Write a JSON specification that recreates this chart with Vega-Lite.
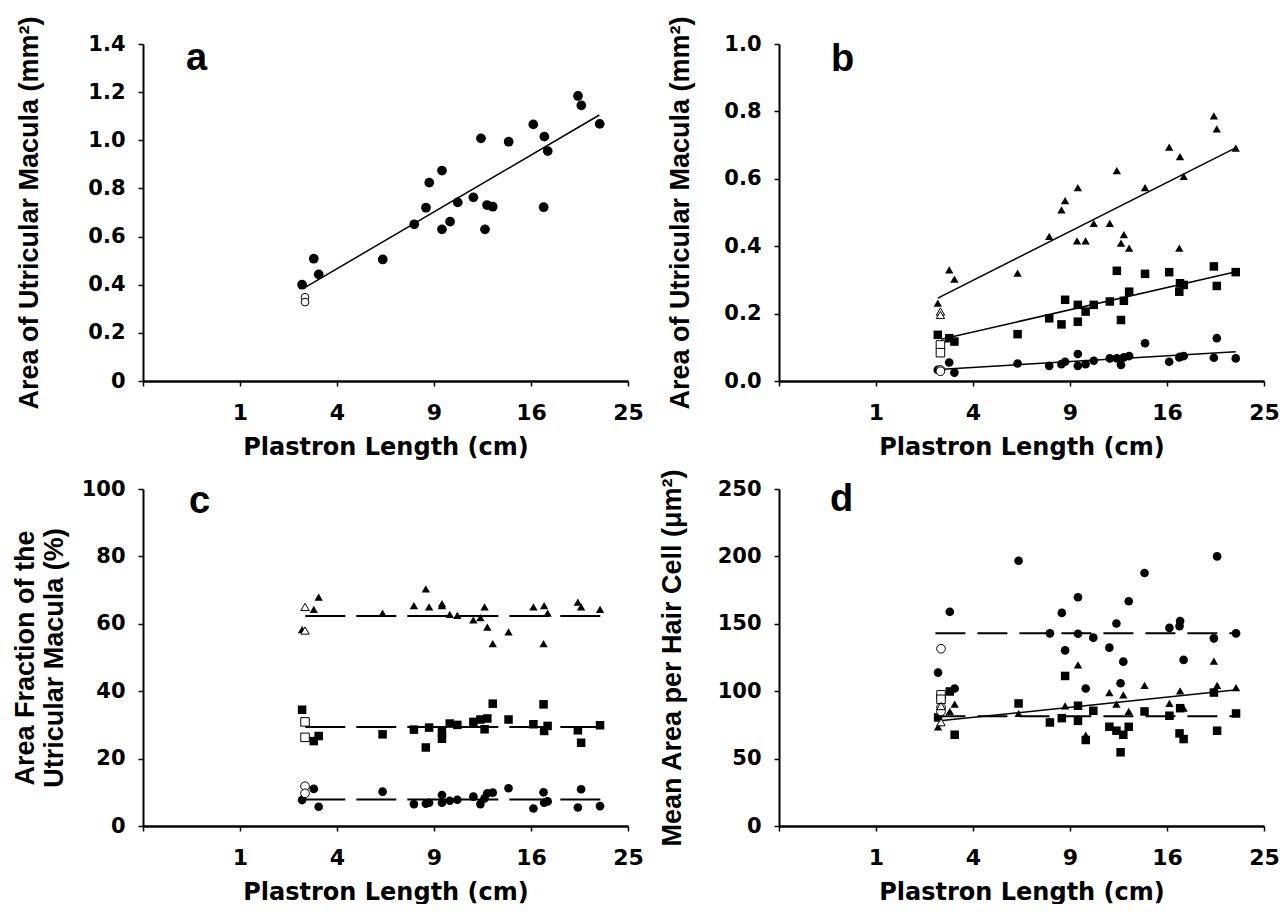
{
  "$schema": "https://vega.github.io/schema/vega-lite/v6.json",
  "background": "white",
  "padding": {"left": 11, "top": 15, "right": 0, "bottom": 0},
  "config": {
    "view": {"stroke": null},
    "axis": {"domainColor": "black", "domainWidth": 2, "tickColor": "black", "tickWidth": 1.5, "tickSize": 5, "labelColor": "black", "titleColor": "black", "grid": false, "labelFont": "DejaVu Sans", "labelFontWeight": "bold", "titleFontWeight": "bold"},
    "axisX": {"labelFontSize": 22, "labelPadding": 16, "titleFont": "DejaVu Sans", "titleFontSize": 24, "titlePadding": 12, "labelFlush": false, "labelOverlap": false, "domainWidth": 2.5},
    "axisY": {"labelFontSize": 21, "labelPadding": 13, "titleFont": "Liberation Sans", "titleFontSize": 27, "titleLineHeight": 29, "labelOverlap": false}
  },
  "datasets": {
    "a_pts": [
      {"L": 2.69, "v": 0.40, "r": "c"}, {"L": 3.10, "v": 0.508, "r": "c"}, {"L": 3.28, "v": 0.443, "r": "c"},
      {"L": 6.11, "v": 0.505, "r": "c"}, {"L": 7.82, "v": 0.651, "r": "c"}, {"L": 8.51, "v": 0.720, "r": "c"},
      {"L": 8.71, "v": 0.824, "r": "c"}, {"L": 9.50, "v": 0.874, "r": "c"}, {"L": 9.50, "v": 0.630, "r": "c"},
      {"L": 10.02, "v": 0.662, "r": "c"}, {"L": 10.53, "v": 0.742, "r": "c"}, {"L": 11.60, "v": 0.763, "r": "c"},
      {"L": 12.14, "v": 1.008, "r": "c"}, {"L": 12.43, "v": 0.630, "r": "c"}, {"L": 12.58, "v": 0.731, "r": "c"},
      {"L": 13.00, "v": 0.724, "r": "c"}, {"L": 14.21, "v": 0.994, "r": "c"}, {"L": 16.19, "v": 1.066, "r": "c"},
      {"L": 17.12, "v": 1.015, "r": "c"}, {"L": 17.06, "v": 0.722, "r": "c"}, {"L": 17.41, "v": 0.955, "r": "c"},
      {"L": 20.11, "v": 1.184, "r": "c"}, {"L": 20.42, "v": 1.145, "r": "c"}, {"L": 22.17, "v": 1.068, "r": "c"}
    ],
    "a_open": [
      {"L": 2.79, "v": 0.348, "r": "c"}, {"L": 2.79, "v": 0.328, "r": "c"}
    ],
    "a_lines": [
      {"L": 2.78, "v": 0.388, "r": "c"}, {"L": 22.13, "v": 1.105, "r": "c"}
    ],
    "b_pts": [
      {"L": 2.68, "v": 0.231, "r": "t"}, {"L": 3.08, "v": 0.330, "r": "t"}, {"L": 3.27, "v": 0.302, "r": "t"},
      {"L": 6.05, "v": 0.320, "r": "t"}, {"L": 7.76, "v": 0.429, "r": "t"}, {"L": 8.48, "v": 0.508, "r": "t"},
      {"L": 8.70, "v": 0.535, "r": "t"}, {"L": 9.49, "v": 0.574, "r": "t"}, {"L": 9.44, "v": 0.416, "r": "t"},
      {"L": 9.99, "v": 0.416, "r": "t"}, {"L": 10.53, "v": 0.468, "r": "t"}, {"L": 11.63, "v": 0.468, "r": "t"},
      {"L": 12.13, "v": 0.624, "r": "t"}, {"L": 12.43, "v": 0.409, "r": "t"}, {"L": 12.64, "v": 0.434, "r": "t"},
      {"L": 13.03, "v": 0.394, "r": "t"}, {"L": 14.24, "v": 0.574, "r": "t"}, {"L": 16.18, "v": 0.694, "r": "t"},
      {"L": 17.09, "v": 0.666, "r": "t"}, {"L": 17.03, "v": 0.394, "r": "t"}, {"L": 17.41, "v": 0.607, "r": "t"},
      {"L": 20.10, "v": 0.787, "r": "t"}, {"L": 20.37, "v": 0.748, "r": "t"}, {"L": 22.17, "v": 0.691, "r": "t"},
      {"L": 2.68, "v": 0.137, "r": "s"}, {"L": 3.08, "v": 0.127, "r": "s"}, {"L": 3.27, "v": 0.117, "r": "s"},
      {"L": 6.05, "v": 0.139, "r": "s"}, {"L": 7.76, "v": 0.186, "r": "s"}, {"L": 8.48, "v": 0.168, "r": "s"},
      {"L": 8.70, "v": 0.241, "r": "s"}, {"L": 9.49, "v": 0.226, "r": "s"}, {"L": 9.49, "v": 0.176, "r": "s"},
      {"L": 9.99, "v": 0.206, "r": "s"}, {"L": 10.53, "v": 0.226, "r": "s"}, {"L": 11.63, "v": 0.236, "r": "s"},
      {"L": 12.13, "v": 0.327, "r": "s"}, {"L": 12.43, "v": 0.181, "r": "s"}, {"L": 12.64, "v": 0.238, "r": "s"},
      {"L": 13.03, "v": 0.265, "r": "s"}, {"L": 14.24, "v": 0.318, "r": "s"}, {"L": 16.18, "v": 0.323, "r": "s"},
      {"L": 17.09, "v": 0.290, "r": "s"}, {"L": 17.03, "v": 0.265, "r": "s"}, {"L": 17.41, "v": 0.285, "r": "s"},
      {"L": 20.10, "v": 0.340, "r": "s"}, {"L": 20.37, "v": 0.282, "r": "s"}, {"L": 22.17, "v": 0.323, "r": "s"},
      {"L": 2.68, "v": 0.033, "r": "c"}, {"L": 3.08, "v": 0.055, "r": "c"}, {"L": 3.27, "v": 0.025, "r": "c"},
      {"L": 6.05, "v": 0.052, "r": "c"}, {"L": 7.76, "v": 0.045, "r": "c"}, {"L": 8.48, "v": 0.050, "r": "c"},
      {"L": 8.70, "v": 0.057, "r": "c"}, {"L": 9.49, "v": 0.080, "r": "c"}, {"L": 9.49, "v": 0.045, "r": "c"},
      {"L": 9.99, "v": 0.050, "r": "c"}, {"L": 10.53, "v": 0.060, "r": "c"}, {"L": 11.63, "v": 0.067, "r": "c"},
      {"L": 12.13, "v": 0.067, "r": "c"}, {"L": 12.43, "v": 0.048, "r": "c"}, {"L": 12.64, "v": 0.070, "r": "c"},
      {"L": 13.03, "v": 0.074, "r": "c"}, {"L": 14.24, "v": 0.112, "r": "c"}, {"L": 16.18, "v": 0.057, "r": "c"},
      {"L": 17.09, "v": 0.072, "r": "c"}, {"L": 17.03, "v": 0.070, "r": "c"}, {"L": 17.41, "v": 0.074, "r": "c"},
      {"L": 20.10, "v": 0.069, "r": "c"}, {"L": 20.37, "v": 0.127, "r": "c"}, {"L": 22.17, "v": 0.067, "r": "c"}
    ],
    "b_open": [
      {"L": 2.77, "v": 0.206, "r": "t"}, {"L": 2.77, "v": 0.196, "r": "t"},
      {"L": 2.77, "v": 0.107, "r": "s"}, {"L": 2.77, "v": 0.084, "r": "s"},
      {"L": 2.77, "v": 0.033, "r": "c"}, {"L": 2.77, "v": 0.029, "r": "c"}
    ],
    "b_lines": [
      {"L": 2.68, "v": 0.246, "r": "t"}, {"L": 22.3, "v": 0.694, "r": "t"},
      {"L": 2.80, "v": 0.124, "r": "s"}, {"L": 22.3, "v": 0.325, "r": "s"},
      {"L": 2.85, "v": 0.035, "r": "c"}, {"L": 22.17, "v": 0.087, "r": "c"}
    ],
    "c_pts": [
      {"L": 2.69, "v": 58.3, "r": "t"}, {"L": 3.10, "v": 64.3, "r": "t"}, {"L": 3.28, "v": 67.9, "r": "t"},
      {"L": 6.10, "v": 63.2, "r": "t"}, {"L": 7.80, "v": 65.4, "r": "t"}, {"L": 8.50, "v": 70.4, "r": "t"},
      {"L": 8.70, "v": 65.0, "r": "t"}, {"L": 9.50, "v": 65.4, "r": "t"}, {"L": 9.50, "v": 66.0, "r": "t"},
      {"L": 10.0, "v": 62.8, "r": "t"}, {"L": 10.5, "v": 62.5, "r": "t"}, {"L": 11.6, "v": 61.2, "r": "t"},
      {"L": 12.1, "v": 61.8, "r": "t"}, {"L": 12.4, "v": 65.0, "r": "t"}, {"L": 12.6, "v": 59.0, "r": "t"},
      {"L": 13.0, "v": 54.1, "r": "t"}, {"L": 14.2, "v": 57.6, "r": "t"}, {"L": 16.2, "v": 65.0, "r": "t"},
      {"L": 17.1, "v": 65.4, "r": "t"}, {"L": 17.05, "v": 54.1, "r": "t"}, {"L": 17.4, "v": 63.2, "r": "t"},
      {"L": 20.1, "v": 66.4, "r": "t"}, {"L": 20.4, "v": 65.0, "r": "t"}, {"L": 22.2, "v": 64.3, "r": "t"},
      {"L": 2.69, "v": 34.5, "r": "s"}, {"L": 3.10, "v": 25.2, "r": "s"}, {"L": 3.28, "v": 26.7, "r": "s"},
      {"L": 6.10, "v": 27.2, "r": "s"}, {"L": 7.80, "v": 28.6, "r": "s"}, {"L": 8.50, "v": 23.3, "r": "s"},
      {"L": 8.70, "v": 29.2, "r": "s"}, {"L": 9.50, "v": 25.9, "r": "s"}, {"L": 9.50, "v": 27.9, "r": "s"},
      {"L": 10.0, "v": 30.4, "r": "s"}, {"L": 10.5, "v": 30.0, "r": "s"}, {"L": 11.6, "v": 30.9, "r": "s"},
      {"L": 12.1, "v": 31.6, "r": "s"}, {"L": 12.4, "v": 28.7, "r": "s"}, {"L": 12.6, "v": 31.9, "r": "s"},
      {"L": 13.0, "v": 36.3, "r": "s"}, {"L": 14.2, "v": 31.6, "r": "s"}, {"L": 16.2, "v": 30.2, "r": "s"},
      {"L": 17.1, "v": 28.2, "r": "s"}, {"L": 17.05, "v": 36.1, "r": "s"}, {"L": 17.4, "v": 29.7, "r": "s"},
      {"L": 20.1, "v": 28.4, "r": "s"}, {"L": 20.4, "v": 24.7, "r": "s"}, {"L": 22.2, "v": 29.9, "r": "s"},
      {"L": 2.69, "v": 7.7, "r": "c"}, {"L": 3.10, "v": 11.0, "r": "c"}, {"L": 3.28, "v": 5.7, "r": "c"},
      {"L": 6.10, "v": 10.2, "r": "c"}, {"L": 7.80, "v": 6.5, "r": "c"}, {"L": 8.50, "v": 6.6, "r": "c"},
      {"L": 8.70, "v": 6.9, "r": "c"}, {"L": 9.50, "v": 9.2, "r": "c"}, {"L": 9.50, "v": 6.9, "r": "c"},
      {"L": 10.0, "v": 7.5, "r": "c"}, {"L": 10.5, "v": 7.8, "r": "c"}, {"L": 11.6, "v": 8.7, "r": "c"},
      {"L": 12.1, "v": 6.5, "r": "c"}, {"L": 12.4, "v": 8.2, "r": "c"}, {"L": 12.6, "v": 9.7, "r": "c"},
      {"L": 13.0, "v": 9.9, "r": "c"}, {"L": 14.2, "v": 11.2, "r": "c"}, {"L": 16.2, "v": 5.2, "r": "c"},
      {"L": 17.1, "v": 6.9, "r": "c"}, {"L": 17.05, "v": 10.0, "r": "c"}, {"L": 17.4, "v": 7.3, "r": "c"},
      {"L": 20.1, "v": 5.5, "r": "c"}, {"L": 20.4, "v": 10.9, "r": "c"}, {"L": 22.2, "v": 5.9, "r": "c"}
    ],
    "c_open": [
      {"L": 2.79, "v": 65.0, "r": "t"}, {"L": 2.79, "v": 58.0, "r": "t"},
      {"L": 2.79, "v": 30.9, "r": "s"}, {"L": 2.79, "v": 26.3, "r": "s"},
      {"L": 2.79, "v": 11.8, "r": "c"}, {"L": 2.79, "v": 9.7, "r": "c"}
    ],
    "c_lines": [
      {"L": 2.8, "v": 62.3, "r": "t"}, {"L": 22.3, "v": 62.3, "r": "t"},
      {"L": 2.8, "v": 29.4, "r": "s"}, {"L": 22.3, "v": 29.4, "r": "s"},
      {"L": 2.8, "v": 7.9, "r": "c"}, {"L": 22.3, "v": 7.9, "r": "c"}
    ],
    "d_pts": [
      {"L": 2.69, "v": 113.8, "r": "c"}, {"L": 3.10, "v": 158.9, "r": "c"}, {"L": 3.28, "v": 102.0, "r": "c"},
      {"L": 6.10, "v": 196.8, "r": "c"}, {"L": 7.80, "v": 142.9, "r": "c"}, {"L": 8.50, "v": 158.1, "r": "c"},
      {"L": 8.70, "v": 130.3, "r": "c"}, {"L": 9.50, "v": 169.7, "r": "c"}, {"L": 9.50, "v": 142.6, "r": "c"},
      {"L": 10.0, "v": 102.0, "r": "c"}, {"L": 10.5, "v": 139.7, "r": "c"}, {"L": 11.6, "v": 132.3, "r": "c"},
      {"L": 12.1, "v": 150.2, "r": "c"}, {"L": 12.4, "v": 105.9, "r": "c"}, {"L": 12.6, "v": 121.9, "r": "c"},
      {"L": 13.0, "v": 166.7, "r": "c"}, {"L": 14.2, "v": 187.7, "r": "c"}, {"L": 16.2, "v": 147.0, "r": "c"},
      {"L": 17.1, "v": 152.0, "r": "c"}, {"L": 17.05, "v": 148.3, "r": "c"}, {"L": 17.4, "v": 123.2, "r": "c"},
      {"L": 20.1, "v": 139.2, "r": "c"}, {"L": 20.4, "v": 200.0, "r": "c"}, {"L": 22.2, "v": 142.9, "r": "c"},
      {"L": 2.69, "v": 73.6, "r": "t"}, {"L": 3.10, "v": 85.0, "r": "t"}, {"L": 3.28, "v": 90.4, "r": "t"},
      {"L": 6.10, "v": 83.5, "r": "t"}, {"L": 7.80, "v": 78.0, "r": "t"}, {"L": 8.70, "v": 89.2, "r": "t"},
      {"L": 9.50, "v": 119.5, "r": "t"}, {"L": 10.0, "v": 67.5, "r": "t"}, {"L": 11.6, "v": 99.0, "r": "t"},
      {"L": 12.1, "v": 90.4, "r": "t"}, {"L": 12.6, "v": 97.3, "r": "t"}, {"L": 13.0, "v": 85.0, "r": "t"},
      {"L": 14.2, "v": 104.4, "r": "t"}, {"L": 16.2, "v": 90.9, "r": "t"}, {"L": 17.1, "v": 100.2, "r": "t"},
      {"L": 17.4, "v": 87.4, "r": "t"}, {"L": 20.1, "v": 122.4, "r": "t"}, {"L": 20.4, "v": 104.4, "r": "t"},
      {"L": 22.2, "v": 102.7, "r": "t"},
      {"L": 2.69, "v": 80.5, "r": "s"}, {"L": 3.10, "v": 99.8, "r": "s"}, {"L": 3.28, "v": 67.7, "r": "s"},
      {"L": 6.10, "v": 90.9, "r": "s"}, {"L": 7.80, "v": 76.8, "r": "s"}, {"L": 8.50, "v": 80.0, "r": "s"},
      {"L": 8.70, "v": 111.3, "r": "s"}, {"L": 9.50, "v": 89.2, "r": "s"}, {"L": 9.50, "v": 78.0, "r": "s"},
      {"L": 10.0, "v": 63.8, "r": "s"}, {"L": 10.5, "v": 85.5, "r": "s"}, {"L": 11.6, "v": 73.6, "r": "s"},
      {"L": 12.1, "v": 70.7, "r": "s"}, {"L": 12.4, "v": 54.7, "r": "s"}, {"L": 12.6, "v": 67.7, "r": "s"},
      {"L": 13.0, "v": 73.6, "r": "s"}, {"L": 14.2, "v": 85.0, "r": "s"}, {"L": 16.2, "v": 81.8, "r": "s"},
      {"L": 17.1, "v": 87.4, "r": "s"}, {"L": 17.05, "v": 68.7, "r": "s"}, {"L": 17.4, "v": 64.5, "r": "s"},
      {"L": 20.1, "v": 99.0, "r": "s"}, {"L": 20.4, "v": 70.7, "r": "s"}, {"L": 22.2, "v": 83.5, "r": "s"}
    ],
    "d_open": [
      {"L": 2.79, "v": 131.5, "r": "c"}, {"L": 2.79, "v": 88.0, "r": "c"}, {"L": 2.79, "v": 85.0, "r": "c"},
      {"L": 2.79, "v": 97.3, "r": "s"}, {"L": 2.79, "v": 94.0, "r": "s"},
      {"L": 2.79, "v": 77.0, "r": "t"}, {"L": 2.79, "v": 89.0, "r": "t"}
    ],
    "d_fit": [
      {"L": 2.74, "v": 78.0, "r": "t"}, {"L": 22.3, "v": 101.0, "r": "t"}
    ],
    "d_mean": [
      {"L": 2.6, "v": 142.9, "r": "c"}, {"L": 22.4, "v": 142.9, "r": "c"},
      {"L": 2.6, "v": 81.5, "r": "s"}, {"L": 22.4, "v": 81.5, "r": "s"}
    ]
  },
  "columns": 2,
  "bounds": "flush",
  "spacing": {"row": 108, "column": 151},
  "concat": [
    {
      "width": 485, "height": 337,
      "layer": [
        {"data": {"name": "a_lines"}, "mark": {"type": "line", "color": "black", "strokeWidth": 1.5},
         "encoding": {
           "x": {"field": "L", "type": "quantitative", "scale": {"type": "sqrt", "domain": [0, 25], "nice": false}, "axis": {"title": "Plastron Length (cm)", "values": [0, 1, 4, 9, 16, 25], "labelExpr": "datum.value === 0 ? '' : datum.label"}},
           "y": {"field": "v", "type": "quantitative", "scale": {"domain": [0, 1.4], "nice": false}, "axis": {"title": "Area of Utricular Macula (mm²)", "values": [0, 0.2, 0.4, 0.6, 0.8, 1.0, 1.2, 1.4], "labelExpr": "datum.value === 0 ? '0' : format(datum.value, '.1f')", "titlePadding": 44}},
           "detail": {"field": "r"}}},
        {"data": {"name": "a_pts"}, "mark": {"type": "point", "filled": true, "color": "black", "opacity": 1, "shape": "circle", "size": 95},
         "encoding": {"x": {"field": "L", "type": "quantitative"}, "y": {"field": "v", "type": "quantitative"}}},
        {"data": {"name": "a_open"}, "mark": {"type": "point", "filled": true, "fill": "white", "stroke": "black", "strokeWidth": 1, "opacity": 1, "shape": "circle", "size": 60},
         "encoding": {"x": {"field": "L", "type": "quantitative"}, "y": {"field": "v", "type": "quantitative"}}},
        {"data": {"values": [{"t": "a"}]}, "mark": {"type": "text", "font": "Liberation Sans", "fontWeight": "bold", "fontSize": 38, "align": "left", "baseline": "alphabetic", "color": "black"},
         "encoding": {"x": {"datum": 0.196, "type": "quantitative"}, "y": {"datum": 1.292, "type": "quantitative"}, "text": {"field": "t"}}}
      ]
    },
    {
      "width": 485, "height": 337,
      "layer": [
        {"data": {"name": "b_lines"}, "mark": {"type": "line", "color": "black", "strokeWidth": 1.5},
         "encoding": {
           "x": {"field": "L", "type": "quantitative", "scale": {"type": "sqrt", "domain": [0, 25], "nice": false}, "axis": {"title": "Plastron Length (cm)", "values": [0, 1, 4, 9, 16, 25], "labelExpr": "datum.value === 0 ? '' : datum.label"}},
           "y": {"field": "v", "type": "quantitative", "scale": {"domain": [0, 1.0], "nice": false}, "axis": {"title": "Area of Utricular Macula (mm²)", "values": [0, 0.2, 0.4, 0.6, 0.8, 1.0], "format": ".1f", "titlePadding": 29}},
           "detail": {"field": "r"}}},
        {"data": {"name": "b_pts"}, "mark": {"type": "point", "filled": true, "color": "black", "opacity": 1},
         "encoding": {"x": {"field": "L", "type": "quantitative"}, "y": {"field": "v", "type": "quantitative"},
                      "shape": {"field": "r", "type": "nominal", "scale": {"domain": ["c", "s", "t"], "range": ["circle", "square", "triangle-up"]}, "legend": null},
                      "size": {"field": "r", "type": "nominal", "scale": {"domain": ["c", "s", "t"], "range": [75, 70, 125]}, "legend": null}}},
        {"data": {"name": "b_open"}, "mark": {"type": "point", "filled": true, "fill": "white", "stroke": "black", "strokeWidth": 1, "opacity": 1},
         "encoding": {"x": {"field": "L", "type": "quantitative"}, "y": {"field": "v", "type": "quantitative"},
                      "shape": {"field": "r", "type": "nominal", "scale": {"domain": ["c", "s", "t"], "range": ["circle", "square", "triangle-up"]}, "legend": null},
                      "size": {"field": "r", "type": "nominal", "scale": {"domain": ["c", "s", "t"], "range": [55, 50, 80]}, "legend": null}}},
        {"data": {"values": [{"t": "b"}]}, "mark": {"type": "text", "font": "Liberation Sans", "fontWeight": "bold", "fontSize": 38, "align": "left", "baseline": "alphabetic", "color": "black"},
         "encoding": {"x": {"datum": 0.287, "type": "quantitative"}, "y": {"datum": 0.92, "type": "quantitative"}, "text": {"field": "t"}}}
      ]
    },
    {
      "width": 485, "height": 337,
      "layer": [
        {"data": {"name": "c_lines"}, "mark": {"type": "line", "color": "black", "strokeWidth": 2, "strokeDash": [40, 11]},
         "encoding": {
           "x": {"field": "L", "type": "quantitative", "scale": {"type": "sqrt", "domain": [0, 25], "nice": false}, "axis": {"title": "Plastron Length (cm)", "values": [0, 1, 4, 9, 16, 25], "labelExpr": "datum.value === 0 ? '' : datum.label"}},
           "y": {"field": "v", "type": "quantitative", "scale": {"domain": [0, 100], "nice": false}, "axis": {"title": ["Area Fraction of the", "Utricular Macula (%)"], "values": [0, 20, 40, 60, 80, 100], "titlePadding": 13}},
           "detail": {"field": "r"}}},
        {"data": {"name": "c_pts"}, "mark": {"type": "point", "filled": true, "color": "black", "opacity": 1},
         "encoding": {"x": {"field": "L", "type": "quantitative"}, "y": {"field": "v", "type": "quantitative"},
                      "shape": {"field": "r", "type": "nominal", "scale": {"domain": ["c", "s", "t"], "range": ["circle", "square", "triangle-up"]}, "legend": null},
                      "size": {"field": "r", "type": "nominal", "scale": {"domain": ["c", "s", "t"], "range": [70, 65, 105]}, "legend": null}}},
        {"data": {"name": "c_open"}, "mark": {"type": "point", "filled": true, "fill": "white", "stroke": "black", "strokeWidth": 1, "opacity": 1},
         "encoding": {"x": {"field": "L", "type": "quantitative"}, "y": {"field": "v", "type": "quantitative"},
                      "shape": {"field": "r", "type": "nominal", "scale": {"domain": ["c", "s", "t"], "range": ["circle", "square", "triangle-up"]}, "legend": null},
                      "size": {"field": "r", "type": "nominal", "scale": {"domain": ["c", "s", "t"], "range": [50, 45, 70]}, "legend": null}}},
        {"data": {"values": [{"t": "c"}]}, "mark": {"type": "text", "font": "Liberation Sans", "fontWeight": "bold", "fontSize": 38, "align": "left", "baseline": "alphabetic", "color": "black"},
         "encoding": {"x": {"datum": 0.225, "type": "quantitative"}, "y": {"datum": 92.9, "type": "quantitative"}, "text": {"field": "t"}}}
      ]
    },
    {
      "width": 485, "height": 337,
      "layer": [
        {"data": {"name": "d_mean"}, "mark": {"type": "line", "color": "black", "strokeWidth": 2, "strokeDash": [30, 12]},
         "encoding": {
           "x": {"field": "L", "type": "quantitative", "scale": {"type": "sqrt", "domain": [0, 25], "nice": false}, "axis": {"title": "Plastron Length (cm)", "values": [0, 1, 4, 9, 16, 25], "labelExpr": "datum.value === 0 ? '' : datum.label"}},
           "y": {"field": "v", "type": "quantitative", "scale": {"domain": [0, 250], "nice": false}, "axis": {"title": "Mean Area per Hair Cell (μm²)", "values": [0, 50, 100, 150, 200, 250], "titlePadding": 31}},
           "detail": {"field": "r"}}},
        {"data": {"name": "d_fit"}, "mark": {"type": "line", "color": "black", "strokeWidth": 1.5},
         "encoding": {"x": {"field": "L", "type": "quantitative"}, "y": {"field": "v", "type": "quantitative"}, "detail": {"field": "r"}}},
        {"data": {"name": "d_pts"}, "mark": {"type": "point", "filled": true, "color": "black", "opacity": 1},
         "encoding": {"x": {"field": "L", "type": "quantitative"}, "y": {"field": "v", "type": "quantitative"},
                      "shape": {"field": "r", "type": "nominal", "scale": {"domain": ["c", "s", "t"], "range": ["circle", "square", "triangle-up"]}, "legend": null},
                      "size": {"field": "r", "type": "nominal", "scale": {"domain": ["c", "s", "t"], "range": [75, 65, 100]}, "legend": null}}},
        {"data": {"name": "d_open"}, "mark": {"type": "point", "filled": true, "fill": "white", "stroke": "black", "strokeWidth": 1, "opacity": 1},
         "encoding": {"x": {"field": "L", "type": "quantitative"}, "y": {"field": "v", "type": "quantitative"},
                      "shape": {"field": "r", "type": "nominal", "scale": {"domain": ["c", "s", "t"], "range": ["circle", "square", "triangle-up"]}, "legend": null},
                      "size": {"field": "r", "type": "nominal", "scale": {"domain": ["c", "s", "t"], "range": [50, 45, 70]}, "legend": null}}},
        {"data": {"values": [{"t": "d"}]}, "mark": {"type": "text", "font": "Liberation Sans", "fontWeight": "bold", "fontSize": 38, "align": "left", "baseline": "alphabetic", "color": "black"},
         "encoding": {"x": {"datum": 0.276, "type": "quantitative"}, "y": {"datum": 233.7, "type": "quantitative"}, "text": {"field": "t"}}}
      ]
    }
  ]
}
